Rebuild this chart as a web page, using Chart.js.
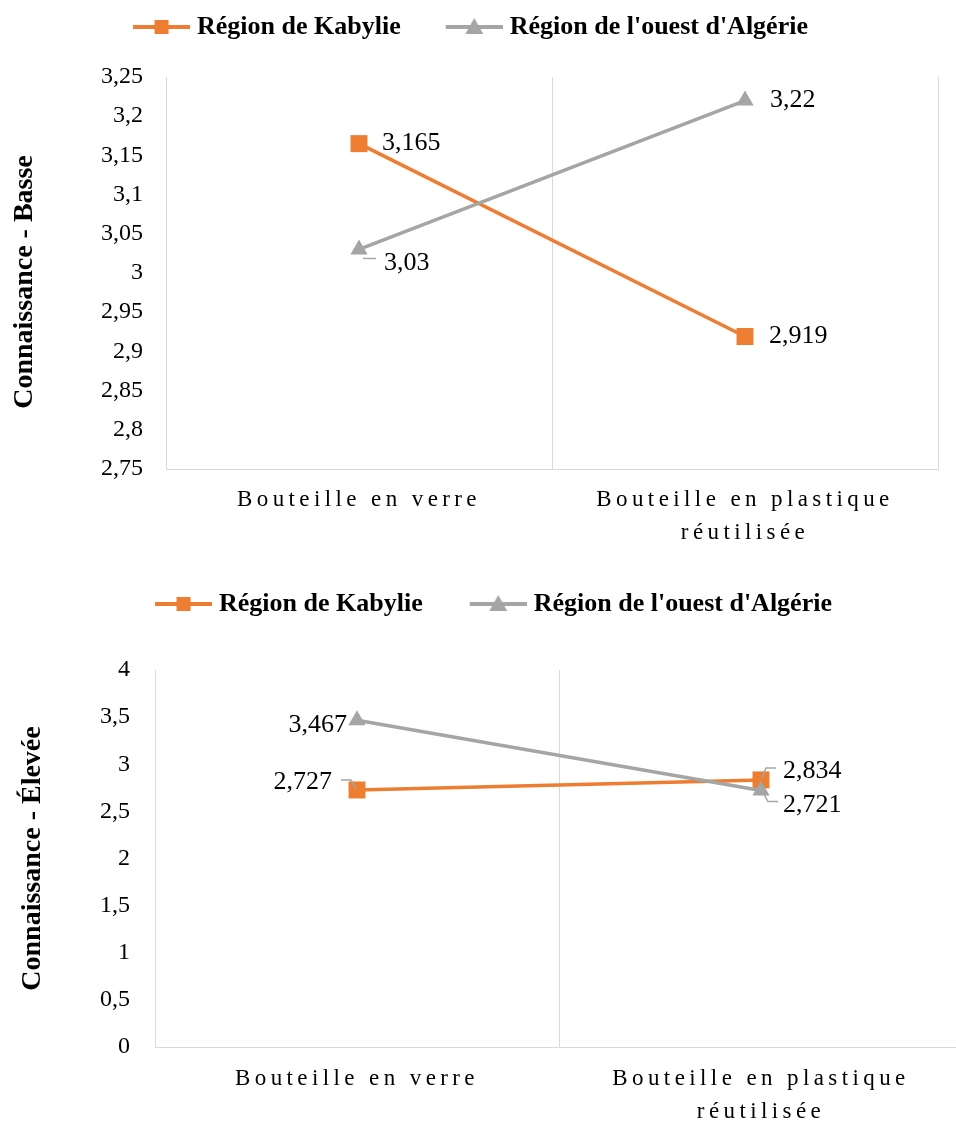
<!DOCTYPE html>
<html>
<head>
<meta charset="utf-8">
<script src="https://cdn.jsdelivr.net/npm/chart.js@4.4.1/dist/chart.umd.min.js"></script>
<style>
html, body { margin: 0; padding: 0; background: #fff; overflow: hidden; width: 956px; height: 1121px; }
.box { position: absolute; left: 0; }
#b1 { top: 0; width: 956px; height: 560px; }
#b2 { top: 575px; width: 975px; height: 546px; }
</style>
</head>
<body>
<div class="box" id="b1"><canvas id="c1"></canvas></div>
<div class="box" id="b2"><canvas id="c2"></canvas></div>
<script>
// data
const categories = ['Bouteille en verre', ['Bouteille en plastique', 'réutilisée']];
const seriesNames = ['Région de Kabylie', "Région de l'ouest d'Algérie"];
const basseKabylie = [3.165, 2.919];
const basseOuest = [3.03, 3.22];
const eleveeKabylie = [2.727, 2.834];
const eleveeOuest = [3.467, 2.721];
const basseTicks = { min: 2.75, max: 3.25, step: 0.05 };
const eleveeTicks = { min: 0, max: 4, step: 0.5 };

const ORANGE = '#ED7D31';
const GRAY = '#A5A5A5';
const FONT = '"Liberation Serif", "Times New Roman", serif';

Chart.defaults.font.family = FONT;
Chart.defaults.color = '#000';

// line + marker, like the office legend
function legendIcon(color, shape) {
    const c = document.createElement('canvas');
    c.width = 94; c.height = 24;
    const x = c.getContext('2d');
    x.strokeStyle = color; x.lineWidth = 4;
    x.beginPath(); x.moveTo(37, 12); x.lineTo(94, 12); x.stroke();
    x.fillStyle = color;
    if (shape === 'rect') {
        x.fillRect(58.5, 5, 14, 14);
    } else {
        x.beginPath(); x.moveTo(65.5, 3); x.lineTo(74.5, 19); x.lineTo(56.5, 19); x.closePath(); x.fill();
    }
    return c;
}
const icons = [legendIcon(ORANGE, 'rect'), legendIcon(GRAY, 'triangle')];

const fmt = v => String(Math.round(v * 1000) / 1000).replace('.', ',');

// value labels next to points, with the small leader lines
const valueLabels = {
    id: 'valueLabels',
    afterDatasetsDraw(chart, args, opts) {
        const ctx = chart.ctx;
        ctx.save();
        ctx.font = '26px ' + FONT;
        ctx.textBaseline = 'middle';
        chart.data.datasets.forEach((ds, di) => {
            const meta = chart.getDatasetMeta(di);
            meta.data.forEach((pt, i) => {
                const p = opts.pos[di][i];
                if (p.leader) {
                    ctx.strokeStyle = '#a6a6a6';
                    ctx.lineWidth = 1.5;
                    ctx.beginPath();
                    p.leader.forEach((q, k) => {
                        if (k) ctx.lineTo(pt.x + q[0], pt.y + q[1]);
                        else ctx.moveTo(pt.x + q[0], pt.y + q[1]);
                    });
                    ctx.stroke();
                }
                ctx.fillStyle = '#000';
                ctx.textAlign = p.align;
                ctx.fillText(fmt(ds.data[i]), pt.x + p.dx, pt.y + p.dy);
            });
        });
        ctx.restore();
    }
};

// fixed legend height / shift so the plot area lands where the original has it
const legendBox = {
    id: 'legendBox',
    beforeLayout(chart, args, opts) {
        const lg = chart.legend;
        if (!lg || lg._fixed) return;
        const fit = lg.fit;
        lg.fit = function () { fit.call(this); this.height = opts.h; };
        lg._fixed = true;
    },
    afterLayout(chart, args, opts) {
        chart.legend.left += opts.dx;
        chart.legend.right += opts.dx;
    }
};

// letter-spaced category labels, nudged y title
const axisTweaks = {
    id: 'axisTweaks',
    beforeDraw(chart, args, opts) {
        const sx = chart.scales.x, sy = chart.scales.y;
        if (sx._tweaked) return;
        const drawLabels = sx.drawLabels;
        sx.drawLabels = function (area) {
            const c = this.ctx;
            c.save();
            c.letterSpacing = '4.4px';
            drawLabels.call(this, area);
            c.restore();
        };
        const drawTitle = sy.drawTitle;
        sy.drawTitle = function () {
            const c = this.ctx;
            c.save();
            c.translate(0, opts.titleDy);
            drawTitle.call(this);
            c.restore();
        };
        sx._tweaked = true;
    }
};

function makeChart(id, kab, oue, ticks, title, g, pos) {
    return new Chart(document.getElementById(id), {
        type: 'line',
        data: {
            labels: categories,
            datasets: [{
                label: seriesNames[0],
                data: kab,
                borderColor: ORANGE,
                backgroundColor: ORANGE,
                borderWidth: 3.5,
                pointStyle: 'rect',
                pointRadius: 12,
                pointBorderWidth: 0,
                order: 1
            }, {
                label: seriesNames[1],
                data: oue,
                borderColor: GRAY,
                backgroundColor: GRAY,
                borderWidth: 3.5,
                pointStyle: 'triangle',
                pointRadius: 10,
                pointBorderWidth: 0,
                order: 0
            }]
        },
        options: {
            responsive: true,
            maintainAspectRatio: false,
            animation: false,
            devicePixelRatio: 1,
            layout: { padding: { left: 0, right: g.right, top: 0, bottom: 0 } },
            scales: {
                x: {
                    offset: true,
                    grid: { offset: true, color: '#d9d9d9', drawTicks: false },
                    border: { color: '#d9d9d9' },
                    ticks: { padding: g.xPad, maxRotation: 0, font: { size: 23, lineHeight: 1.42 } },
                    afterFit: s => { s.height = g.xHeight; }
                },
                y: {
                    min: ticks.min,
                    max: ticks.max,
                    grid: { display: false, drawTicks: false },
                    border: { color: '#d9d9d9' },
                    ticks: { stepSize: ticks.step, padding: g.tickPad, font: { size: 24 }, callback: v => fmt(v) },
                    title: { display: true, text: title, padding: { top: g.titlePad }, font: { size: 28, weight: 'bold' } },
                    afterFit: s => { s.width = g.yWidth; }
                }
            },
            plugins: {
                tooltip: { enabled: false },
                legendBox: { h: g.legendH, dx: g.legendDx },
                axisTweaks: { titleDy: g.titleDy },
                valueLabels: { pos: pos },
                legend: {
                    position: 'top',
                    labels: {
                        usePointStyle: true,
                        pointStyleWidth: 82,
                        padding: g.legendPad,
                        font: { size: 26, weight: 'bold' },
                        sort: (a, b) => a.datasetIndex - b.datasetIndex,
                        generateLabels: chart => Chart.defaults.plugins.legend.labels.generateLabels(chart)
                            .map(it => Object.assign(it, { pointStyle: icons[it.datasetIndex] }))
                    }
                }
            }
        },
        plugins: [legendBox, valueLabels, axisTweaks]
    });
}

makeChart('c1', basseKabylie, basseOuest, basseTicks, 'Connaissance - Basse',
    { right: 18, yWidth: 166, xHeight: 91, legendH: 77, legendPad: 14, legendDx: -14, tickPad: 23, titlePad: 8, titleDy: 9, xPad: 15 },
    [
        [{ dx: 23, dy: 0, align: 'left' }, { dx: 24, dy: 0, align: 'left' }],
        [{ dx: 25, dy: 14, align: 'left', leader: [[4, 9], [17, 9]] }, { dx: 25, dy: 0, align: 'left' }]
    ]);

makeChart('c2', eleveeKabylie, eleveeOuest, eleveeTicks, 'Connaissance - Élevée',
    { right: 9, yWidth: 155, xHeight: 74, legendH: 95, legendPad: 16, legendDx: -5, tickPad: 25, titlePad: 16, titleDy: 0, xPad: 16 },
    [
        [{ dx: -25, dy: -8, align: 'right', leader: [[-16, -10], [-6, -10], [-1, -1]] },
         { dx: 22, dy: -9, align: 'left', leader: [[15, -12], [5, -12], [1, -2]] }],
        [{ dx: -10, dy: 5, align: 'right' },
         { dx: 22, dy: 15, align: 'left', leader: [[2, 2], [7, 11], [17, 11]] }]
    ]);
</script>
</body>
</html>
